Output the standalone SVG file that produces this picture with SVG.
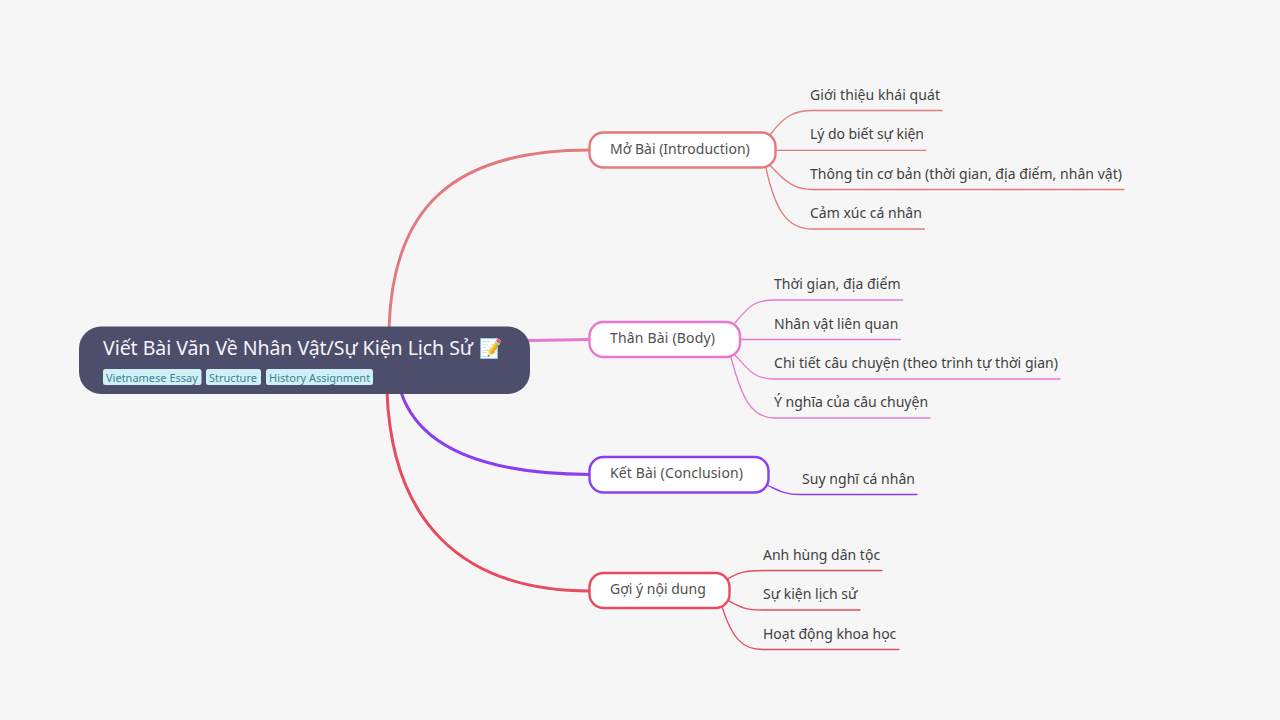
<svg xmlns="http://www.w3.org/2000/svg" width="1280" height="720" viewBox="0 0 1280 720">
<style>
text{font-family:"Noto Sans","Open Sans",sans-serif;}
.t{font-size:14px;fill:#3f3f3f;}
.b{font-size:14px;fill:#505050;}
.c{fill:none;stroke-linecap:round;}
.m{stroke-width:3;}
.s{stroke-width:1.3;}
.tag{fill:#d0f0f8;}
.tt{font-size:11px;fill:#3f7f96;}
.nb{fill:#fff;stroke-width:2.4;}
.r1{stroke:#e27a7c;}.r2{stroke:#e878cf;}.r3{stroke:#8b3df0;}.r4{stroke:#e84a5f;}
</style>
<rect width="1280" height="720" fill="#f6f6f6"/>
<g id="connectors">
<path class="c m r1" d="M389 330C392 210 450 150 590 150"/>
<path class="c m r2" d="M528 340.500L590 339.500"/>
<path class="c m r3" d="M401 392C420 450 490 474 590 474.500"/>
<path class="c m r4" d="M387 392C392 520 460 591 590 591"/>
<path class="c s r1" d="M770 135C785 115 795 110.500 812 110.500H942"/><path class="c s r1" d="M776 150.300H926"/>
<path class="c s r1" d="M770 165C785 182 795 189.500 812 189.500H1124"/><path class="c s r1" d="M766 168C776 215 790 229 812 229H924.500"/>
<path class="c s r2" d="M735 323C750 305 755 300 775 300H902.500"/><path class="c s r2" d="M740 339.500H900.500"/>
<path class="c s r2" d="M735 355C750 372 755 379 775 379H1060"/><path class="c s r2" d="M731 357C742 400 752 418 775 418H930"/>
<path class="c s r3" d="M767 485C780 491 785 494.500 800 494.500H917"/>
<path class="c s r4" d="M727 579C740 572 745 570.500 763 570.500H882"/><path class="c s r4" d="M727 600C740 607 745 610 763 610H860"/><path class="c s r4" d="M722 607C732 638 742 649.500 763 649.500H899"/>
</g>
<g id="root"><rect x="79" y="326.500" width="451" height="67.500" rx="22" fill="#4d4e6b"/>
<text x="103" y="354.500" font-size="19.500" fill="#f4f4f8" textLength="370" lengthAdjust="spacing">Viết Bài Văn Về Nhân Vật/Sự Kiện Lịch Sử</text>
<text x="478.500" y="355" font-size="19">📝</text>
<rect class="tag" x="103" y="369" width="98.500" height="16" rx="2.500"/><text class="tt" x="106" y="382">Vietnamese Essay</text>
<rect class="tag" x="206" y="369" width="55" height="16" rx="2.500"/><text class="tt" x="209" y="382">Structure</text>
<rect class="tag" x="266" y="369" width="107" height="16" rx="2.500"/><text class="tt" x="269" y="382">History Assignment</text></g>
<g id="n1"><rect class="nb r1" x="589.500" y="132.500" width="186" height="35" rx="14"/><text class="b" x="610" y="154">Mở Bài (Introduction)</text></g>
<g id="n1a"><text class="t" x="810" y="100" textLength="130">Giới thiệu khái quát</text></g>
<g id="n1b"><text class="t" x="810" y="139" textLength="114">Lý do biết sự kiện</text></g>
<g id="n1c"><text class="t" x="810" y="178.500" textLength="312">Thông tin cơ bản (thời gian, địa điểm, nhân vật)</text></g>
<g id="n1d"><text class="t" x="810" y="218">Cảm xúc cá nhân</text></g>
<g id="n2"><rect class="nb r2" x="589.500" y="322" width="150.500" height="35" rx="14"/><text class="b" x="610" y="343" textLength="105">Thân Bài (Body)</text></g>
<g id="n2a"><text class="t" x="774" y="289" textLength="126.500">Thời gian, địa điểm</text></g>
<g id="n2b"><text class="t" x="774" y="328.500">Nhân vật liên quan</text></g>
<g id="n2c"><text class="t" x="774" y="368" textLength="284">Chi tiết câu chuyện (theo trình tự thời gian)</text></g>
<g id="n2d"><text class="t" x="774" y="407">Ý nghĩa của câu chuyện</text></g>
<g id="n3"><rect class="nb r3" x="589.500" y="457" width="179" height="35.500" rx="14"/><text class="b" x="610" y="478" textLength="133">Kết Bài (Conclusion)</text></g>
<g id="n3a"><text class="t" x="802" y="484" textLength="113">Suy nghĩ cá nhân</text></g>
<g id="n4"><rect class="nb r4" x="589.500" y="573" width="140" height="35" rx="14"/><text class="b" x="610" y="594">Gợi ý nội dung</text></g>
<g id="n4a"><text class="t" x="763" y="560">Anh hùng dân tộc</text></g>
<g id="n4b"><text class="t" x="763" y="599">Sự kiện lịch sử</text></g>
<g id="n4c"><text class="t" x="763" y="638.500">Hoạt động khoa học</text></g>
</svg>
